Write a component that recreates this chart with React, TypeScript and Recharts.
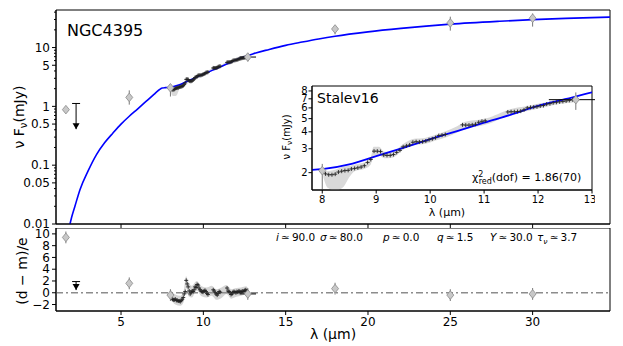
import { ComposedChart, Line, Scatter, Area, XAxis, YAxis, ErrorBar, ReferenceArea, ReferenceLine } from 'recharts'

// model SED (blue curve)
const curveX = [1.9, 2.0, 2.2, 2.5, 3.0, 3.5, 4.0, 4.5, 5.0, 5.5, 6.0, 6.5, 7.0, 7.3, 7.5, 7.7, 8.0, 8.5, 9.0, 9.5, 10.0, 10.5, 11.0, 11.5, 12.0, 12.5, 13.0, 14.0, 15.0, 16.0, 17.0, 18.0, 20.0, 22.0, 25.0, 28.0, 30.0, 32.0, 34.7]
const curveY = [0.01, 0.013, 0.02, 0.038, 0.08, 0.15, 0.24, 0.35, 0.5, 0.68, 0.9, 1.2, 1.6, 1.9, 2.05, 2.08, 2.12, 2.3, 2.65, 3.05, 3.53, 4.05, 4.67, 5.35, 6.2, 6.95, 7.8, 9.3, 10.9, 12.4, 14.0, 15.6, 18.5, 21.2, 25.0, 28.0, 29.8, 31.3, 33.0]

// photometry
const photoX = [1.65, 5.5, 8.0, 12.7, 18.0, 25.0, 30.0]
const photoY = [0.88, 1.42, 2.07, 6.9, 20.7, 26.2, 31.5]
const photoErrLo = [0, 0.35, 0.6, 1.1, 3.9, 6.8, 8.8]
const photoErrHi = [0, 0.45, 0.25, 0.9, 2.8, 7.3, 6.5]
const photoErrX = [0, 0, 0, 0.5, 0, 0, 0]
const limitX = [2.27]
const limitTop = [1.12]
const limitTip = [0.41]

// Spitzer spectrum (Stalev16)
const specX = [8.06, 8.12, 8.18, 8.24, 8.3, 8.36, 8.42, 8.48, 8.54, 8.6, 8.66, 8.72, 8.78, 8.84, 8.9, 8.96, 9.02, 9.08, 9.14, 9.2, 9.26, 9.32, 9.38, 9.44, 9.5, 9.56, 9.62, 9.68, 9.74, 9.8, 9.86, 9.92, 9.98, 10.04, 10.1, 10.16, 10.22, 10.28, 10.6, 10.66, 10.72, 10.78, 10.84, 10.9, 10.96, 11.02, 11.44, 11.5, 11.56, 11.62, 11.68, 11.74, 11.8, 11.86, 11.92, 11.98, 12.04, 12.1, 12.16, 12.22, 12.28, 12.34, 12.4, 12.46, 12.52, 12.58, 12.64]
const specY = [1.96, 1.93, 1.93, 1.95, 2.02, 2.05, 2.07, 2.08, 2.13, 2.15, 2.17, 2.2, 2.25, 2.38, 2.5, 2.88, 2.88, 2.86, 2.7, 2.68, 2.68, 2.72, 2.82, 2.92, 3.1, 3.15, 3.2, 3.35, 3.38, 3.37, 3.38, 3.42, 3.5, 3.55, 3.62, 3.75, 3.78, 3.82, 4.5, 4.48, 4.48, 4.5, 4.55, 4.7, 4.78, 4.82, 5.6, 5.62, 5.62, 5.64, 5.68, 5.8, 6.0, 6.05, 6.08, 6.12, 6.2, 6.25, 6.4, 6.45, 6.55, 6.6, 6.65, 6.7, 6.75, 6.82, 6.9]
const bandX = [8.02, 8.1, 8.2, 8.3, 8.4, 8.5, 8.6, 8.8, 8.9, 8.95, 9.05, 9.15, 9.3, 9.5, 9.7, 9.9, 10.1, 10.3, 10.5, 10.65, 10.9, 11.1, 11.3, 11.5, 11.8, 12.1, 12.4, 12.7]
const bandHi = [2.1, 2.05, 2.08, 2.15, 2.22, 2.25, 2.3, 2.4, 2.6, 3.1, 3.1, 2.85, 2.85, 3.25, 3.55, 3.6, 3.8, 4.05, 4.4, 4.75, 4.9, 5.1, 5.5, 5.9, 6.2, 6.55, 6.8, 7.05]
const bandLo = [1.85, 1.55, 1.5, 1.5, 1.58, 1.85, 2.05, 2.15, 2.3, 2.65, 2.7, 2.55, 2.58, 2.95, 3.2, 3.25, 3.45, 3.65, 3.95, 4.25, 4.4, 4.6, 5.0, 5.35, 5.7, 6.05, 6.4, 6.6]

// residuals
const resPhotoY = [9.4, 1.6, -0.4, -0.2, 0.7, -0.4, -0.2]
const resErr = [1, 1, 1, 1, 1, 1, 1]
const resLimitTop = [1.9]
const resLimitTip = [0.45]
const resSpecY = [-0.3, -1.1, -1.2, -1.2, -1.1, -1.3, -1.3, -1.4, -1.4, -1.5, -1.3, -1.1, -0.8, -0.2, 0.2, 2.1, 1.5, 1.0, 0.3, -0.2, 0.1, 0.3, 0.2, 0.5, 1.0, 0.9, 1.4, 1.3, 0.8, 0.5, 0.3, 0.2, 0.1, 0.3, 0.4, 0.2, -0.1, -0.3, 0.5, 0.3, 0.0, -0.2, -0.4, -0.1, 0.2, 0.1, 0.8, 0.3, 0.2, 0.0, -0.3, -0.2, 0.1, 0.2, 0.1, 0.0, 0.2, 0.1, 0.3, 0.2, 0.1, 0.2, 0.3, 0.2, 0.4, 0.5, 0.3]
const resBandX = [8.0, 8.3, 8.6, 8.8, 8.95, 9.1, 9.3, 9.6, 9.9, 10.2, 10.5, 10.8, 11.1, 11.4, 11.7, 12.0, 12.3, 12.6, 12.7]
const resBandHi = [0.6, -0.3, -0.5, 0.3, 2.8, 1.8, 1.2, 2.0, 1.1, 0.9, 1.2, 0.6, 0.9, 1.3, 0.6, 0.8, 0.9, 1.1, 0.8]
const resBandLo = [-1.0, -2.0, -2.2, -1.6, 0.8, -0.6, -0.8, 0.4, -0.6, -0.8, -0.5, -1.2, -0.9, -0.2, -1.0, -0.7, -0.5, -0.3, -0.4]

// axes
const xTicks = [5, 10, 15, 20, 25, 30]
const mainYTicks = [0.01, 0.02, 0.03, 0.04, 0.05, 0.06, 0.07, 0.08, 0.09, 0.1, 0.2, 0.3, 0.4, 0.5, 0.6, 0.7, 0.8, 0.9, 1, 2, 3, 4, 5, 6, 7, 8, 9, 10, 20, 30, 40]
const mainYLabels = [0.01, 0.05, 0.1, 0.5, 1, 5, 10]
const resYTicks = [-2, 0, 2, 4, 6, 8, 10]
const insetXTicks = [8, 9, 10, 11, 12, 13]
const insetYTicks = [2, 3, 4, 5, 6, 7, 8]

const X_DOM: [number, number] = [1.05, 34.7]
const Y_DOM: [number, number] = [0.01, 43.5]
const R_DOM: [number, number] = [-3.1, 11]
const IX_DOM: [number, number] = [7.81, 13]
const IY_DOM: [number, number] = [1.49, 8.7]

const curve = curveX.map((x, i) => ({ x, y: curveY[i] }))
const photo = photoX.map((x, i) => ({ x, y: photoY[i], ey: [photoErrLo[i], photoErrHi[i]], ex: photoErrX[i] }))
const limit = limitX.map((x, i) => ({ x, y: limitTop[i], ey: [limitTop[i] - limitTip[i], 0] }))
const limitArrow = limitX.map((x, i) => ({ x, y: limitTip[i] }))
const spec = specX.map((x, i) => ({ x, y: specY[i] }))
const band = bandX.map((x, i) => ({ x, band: [bandLo[i], bandHi[i]] }))
const resPhoto = photoX.map((x, i) => ({ x, y: resPhotoY[i], ey: resErr[i], ex: photoErrX[i] }))
const resLimit = limitX.map((x, i) => ({ x, y: resLimitTop[i], ey: [resLimitTop[i] - resLimitTip[i], 0] }))
const resLimitArrow = limitX.map((x, i) => ({ x, y: resLimitTip[i] }))
const resSpec = specX.map((x, i) => ({ x, y: resSpecY[i] }))
const resBand = resBandX.map((x, i) => ({ x, band: [resBandLo[i], resBandHi[i]] }))
const insetPhoto = photo.filter((p) => p.x >= IX_DOM[0] && p.x <= IX_DOM[1])
const insetCurve = curve.filter((p) => p.x >= 7.5)

const FONT = '"DejaVu Sans", sans-serif'

const Diamond = (p: any) => {
  const { cx, cy } = p
  if (cx == null || cy == null) return <g />
  return <polygon points={`${cx},${cy - 4.3} ${cx + 3.5},${cy} ${cx},${cy + 4.3} ${cx - 3.5},${cy}`} fill="#c8c8c8" stroke="#8a8a8a" strokeWidth={0.8} />
}
const Cross = (p: any) => {
  const { cx, cy } = p
  if (cx == null || cy == null) return <g />
  return <path d={`M${cx - 2},${cy}H${cx + 2}M${cx},${cy - 2}V${cy + 2}`} stroke="#222" strokeWidth={0.9} />
}
const Cap = (p: any) => {
  const { cx, cy } = p
  if (cx == null || cy == null) return <g />
  return <line x1={cx - 4} x2={cx + 4} y1={cy} y2={cy} stroke="#000" strokeWidth={1} />
}
const ArrowHead = (p: any) => {
  const { cx, cy } = p
  if (cx == null || cy == null) return <g />
  return <polygon points={`${cx - 3.5},${cy - 6} ${cx + 3.5},${cy - 6} ${cx},${cy}`} fill="#000" />
}

const LogTick = (p: any) => {
  const { x, y, payload } = p
  const v = payload.value
  const lab = mainYLabels.includes(v)
  return (
    <g>
      <line x1={x - (lab ? 4 : 2)} x2={x} y1={y} y2={y} stroke="#000" strokeWidth={1} />
      {lab && (
        <text x={x - 6} y={y} dy={4.3} textAnchor="end" fontSize={12} fill="#000" fontFamily={FONT}>
          {String(v)}
        </text>
      )}
    </g>
  )
}
const minus = (v: number) => (v < 0 ? '\u2212' + Math.abs(v) : String(v))

const tick12 = { fontSize: 12, fill: '#000', fontFamily: FONT }
const tick10 = { fontSize: 10, fill: '#000', fontFamily: FONT }

function MainPanel() {
  return (
    <ComposedChart width={623} height={240} margin={{ top: 10, right: 13, bottom: 0, left: 0 }}>
      <XAxis type="number" dataKey="x" domain={X_DOM} allowDataOverflow ticks={xTicks} tickFormatter={() => ''} tickSize={4} height={16} stroke="#000" />
      <YAxis dataKey="y" scale="log" domain={Y_DOM} allowDataOverflow ticks={mainYTicks} interval={0} tick={<LogTick />} tickLine={false} tickSize={0} tickMargin={0} width={56} stroke="#000" />
      <ReferenceArea x1={X_DOM[0]} x2={X_DOM[1]} y1={Y_DOM[0]} y2={Y_DOM[1]} fill="none" stroke="#000" strokeWidth={1} ifOverflow="visible" />
      <Area data={band} dataKey="band" type="monotone" fill="#d9d9d9" fillOpacity={1} stroke="none" isAnimationActive={false} />
      <Scatter data={spec} shape={<Cross />} isAnimationActive={false} />
      <Line data={curve} dataKey="y" type="monotone" stroke="#0000ff" strokeWidth={1.6} dot={false} isAnimationActive={false} />
      <Scatter data={limit} shape={<Cap />} isAnimationActive={false}>
        <ErrorBar dataKey="ey" direction="y" width={0} stroke="#000" strokeWidth={1} />
      </Scatter>
      <Scatter data={limitArrow} shape={<ArrowHead />} isAnimationActive={false} />
      <Scatter data={photo} shape={<Diamond />} isAnimationActive={false}>
        <ErrorBar dataKey="ey" direction="y" width={0} stroke="#777" strokeWidth={1} />
        <ErrorBar dataKey="ex" direction="x" width={0} stroke="#000" strokeWidth={1} />
      </Scatter>
    </ComposedChart>
  )
}

function ResidualPanel() {
  return (
    <ComposedChart width={623} height={118} margin={{ top: 0, right: 13, bottom: 14, left: 0 }}>
      <XAxis type="number" dataKey="x" domain={X_DOM} allowDataOverflow ticks={xTicks} tick={tick12} tickSize={4} height={21} stroke="#000" />
      <YAxis dataKey="y" domain={R_DOM} allowDataOverflow ticks={resYTicks} interval={0} tick={tick12} tickFormatter={minus} tickSize={4} width={56} stroke="#000" />
      <ReferenceArea x1={X_DOM[0]} x2={X_DOM[1]} y1={R_DOM[0]} y2={R_DOM[1]} fill="none" stroke="#000" strokeWidth={1} ifOverflow="visible" />
      <Area data={resBand} dataKey="band" type="monotone" fill="#d5d5d5" fillOpacity={1} stroke="none" isAnimationActive={false} />
      <ReferenceLine y={0} stroke="#8c8c8c" strokeWidth={1.3} strokeDasharray="7 3 2 3" />
      <Scatter data={resSpec} shape={<Cross />} isAnimationActive={false} />
      <Scatter data={resLimit} shape={<Cap />} isAnimationActive={false}>
        <ErrorBar dataKey="ey" direction="y" width={0} stroke="#000" strokeWidth={1} />
      </Scatter>
      <Scatter data={resLimitArrow} shape={<ArrowHead />} isAnimationActive={false} />
      <Scatter data={resPhoto} shape={<Diamond />} isAnimationActive={false}>
        <ErrorBar dataKey="ey" direction="y" width={0} stroke="#777" strokeWidth={1} />
        <ErrorBar dataKey="ex" direction="x" width={0} stroke="#000" strokeWidth={1} />
      </Scatter>
    </ComposedChart>
  )
}

function InsetPanel() {
  return (
    <ComposedChart width={315} height={140} margin={{ top: 6, right: 3, bottom: 10, left: 0 }}>
      <XAxis type="number" dataKey="x" domain={IX_DOM} allowDataOverflow ticks={insetXTicks} tick={tick10} tickSize={3.5} height={20} stroke="#000" />
      <YAxis dataKey="y" scale="log" domain={IY_DOM} allowDataOverflow ticks={insetYTicks} interval={0} tick={tick10} tickSize={3.5} tickMargin={1} width={32} stroke="#000" />
      <ReferenceArea x1={IX_DOM[0]} x2={IX_DOM[1]} y1={IY_DOM[0]} y2={IY_DOM[1]} fill="#fff" stroke="#000" strokeWidth={1} ifOverflow="visible" />
      <Area data={band} dataKey="band" type="monotone" fill="#d9d9d9" fillOpacity={1} stroke="none" isAnimationActive={false} />
      <Scatter data={spec} shape={<Cross />} isAnimationActive={false} />
      <Line data={insetCurve} dataKey="y" type="monotone" stroke="#0000ff" strokeWidth={1.8} dot={false} isAnimationActive={false} />
      <Scatter data={insetPhoto} shape={<Diamond />} isAnimationActive={false}>
        <ErrorBar dataKey="ey" direction="y" width={0} stroke="#777" strokeWidth={1} />
        <ErrorBar dataKey="ex" direction="x" width={0} stroke="#000" strokeWidth={1} />
      </Scatter>
    </ComposedChart>
  )
}

function Labels() {
  const ap = '\u2009\u2243\u2009'
  const params = [
    { x: 276, v: 'i', t: ap + '90.0' },
    { x: 320, v: '\u03c3', t: ap + '80.0' },
    { x: 383, v: 'p', t: ap + '0.0' },
    { x: 437, v: 'q', t: ap + '1.5' },
    { x: 490, v: 'Y', t: ap + '30.0' },
  ]
  return (
    <svg width={623} height={346} style={{ position: 'absolute', left: 0, top: 0, pointerEvents: 'none' }} fontFamily={FONT}>
      <text x={67} y={36} fontSize={16}>NGC4395</text>
      <text x={317} y={103} fontSize={14}>Stalev16</text>
      <text transform="translate(24,117) rotate(-90)" textAnchor="middle" fontSize={14}>
        ν F<tspan fontSize={10} dy={3}>ν</tspan><tspan dy={-3}>(mJy)</tspan>
      </text>
      <text transform="translate(27,271) rotate(-90)" textAnchor="middle" fontSize={14}>(d − m)/e</text>
      <text x={333} y={339} textAnchor="middle" fontSize={14}>λ (μm)</text>
      <text x={447} y={216} textAnchor="middle" fontSize={11}>λ (μm)</text>
      <text transform="translate(290,137) rotate(-90)" textAnchor="middle" fontSize={10}>
        ν F<tspan fontSize={7.5} dy={2}>ν</tspan><tspan dy={-2}>(mJy)</tspan>
      </text>
      <text x={472} y={181} fontSize={11}>
        χ<tspan fontSize={8} dy={-4.5}>2</tspan><tspan fontSize={8} dx={-4.8} dy={7.5}>red</tspan><tspan dy={-3}>(dof) = 1.86(70)</tspan>
      </text>
      {params.map((p) => (
        <text key={p.x} x={p.x} y={241} fontSize={10.5}>
          <tspan fontStyle="italic">{p.v}</tspan>{p.t}
        </text>
      ))}
      <text x={537} y={241} fontSize={10.5}>
        <tspan fontStyle="italic">τ</tspan><tspan fontSize={7.5} dy={2.5} fontStyle="italic">ν</tspan><tspan dy={-2.5}>{'\u2009\u2243\u20093.7'}</tspan>
      </text>
    </svg>
  )
}

export default function App() {
  return (
    <div style={{ position: 'absolute', left: 0, top: 0, width: 623, height: 346, background: '#fff', fontFamily: FONT }}>
      <div style={{ position: 'absolute', left: 0, top: 0 }}>
        <MainPanel />
      </div>
      <div style={{ position: 'absolute', left: 0, top: 228 }}>
        <ResidualPanel />
      </div>
      <div style={{ position: 'absolute', left: 280, top: 80 }}>
        <InsetPanel />
      </div>
      <Labels />
    </div>
  )
}
